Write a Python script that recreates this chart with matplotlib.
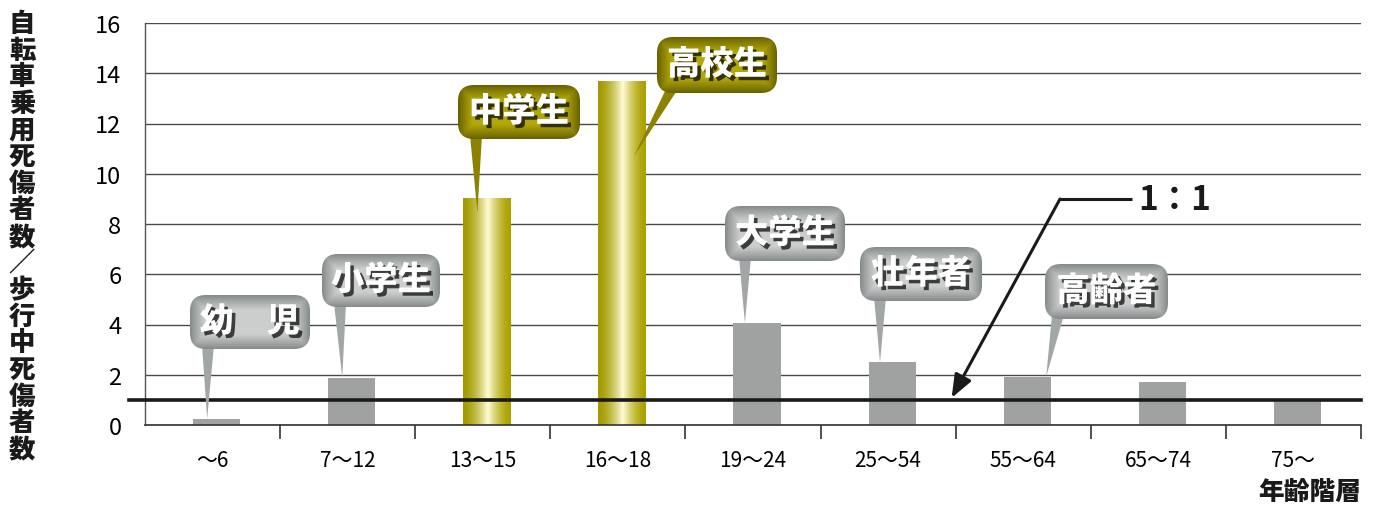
import numpy as np
import matplotlib
matplotlib.use('agg')
import matplotlib.pyplot as plt
from matplotlib.patches import FancyBboxPatch, Polygon
import matplotlib.patheffects as pe
import matplotlib.transforms as mtransforms

plt.rcParams['font.family'] = ['Noto Sans CJK JP', 'DejaVu Sans']

# age groups and ratio of cyclist casualties to pedestrian casualties
age_groups = ['～6', '7～12', '13～15', '16～18', '19～24', '25～54', '55～64', '65～74', '75～']
ratios = [0.25, 1.88, 9.05, 13.7, 4.06, 2.49, 1.92, 1.72, 1.05]
highlight = [False, False, True, True, False, False, False, False, False]

callout_labels = ['幼　児', '小学生', '中学生', '高校生', '大学生', '壮年者', '高齢者']
callout_bars = [0, 1, 2, 3, 4, 5, 6]

y_label = '自転車乗用死傷者数／歩行中死傷者数'
x_label = '年齢階層'
ref_value = 1.0
ref_label = '1：1'

# callout box placement in figure pixels (left, top, width, height)
callout_boxes = [(190, 296, 120, 54), (322, 255, 118, 53), (458, 86, 122, 54),
                 (657, 38, 120, 56), (725, 207, 120, 55), (860, 248, 122, 54),
                 (1045, 265, 123, 55)]
pointer_base = [18, 18, 18, 15, 20, 20, 13]
tip_dx = [-0.07, -0.07, -0.07, 0.09, -0.09, -0.09, 0.14]
tip_depth = [0, 0, 0.6, 3.0, 0, 0, 0]

W, H = 1375, 506
fig = plt.figure(figsize=(W / 100, H / 100), dpi=100)
ax = fig.add_axes([145 / W, 1 - 426 / H, 1216 / W, 402 / H])

x = np.arange(len(age_groups))
ax.set_xlim(-0.5, len(age_groups) - 0.5)
ax.set_ylim(0, 16)
ax.set_yticks(np.arange(0, 17, 2))
ax.set_axisbelow(True)
ax.grid(axis='y', color='#4a4a4a', lw=1.0)

bar_gray = '#a0a2a2'
bars = ax.bar(x + 0.03, ratios, width=0.35,
              color=[('none' if h else bar_gray) for h in highlight], zorder=2)

# gold gradient for the secondary school bars
grad = np.linspace(0, 1, 256)
edge_l = np.array([0.64, 0.60, 0.0])
edge_r = np.array([0.67, 0.63, 0.0])
mid = np.array([1.0, 0.99, 0.84])
peak = 0.52
prof = np.where(grad < peak, grad / peak, (1 - grad) / (1 - peak)) ** 1.6
left_side = grad < peak
gold = np.empty((1, 256, 3))
for c in range(3):
    base = np.where(left_side, edge_l[c], edge_r[c])
    gold[0, :, c] = base + (mid[c] - base) * prof
for rect, h in zip(bars, highlight):
    if h:
        x0, w_, hgt = rect.get_x(), rect.get_width(), rect.get_height()
        im = ax.imshow(gold, extent=(x0, x0 + w_, 0, hgt), aspect='auto', zorder=2)
        im.set_clip_path(rect)

# 1:1 reference line, running slightly past the y axis
blend = mtransforms.blended_transform_factory(ax.transAxes, ax.transData)
ax.plot([-0.013, 1.0], [ref_value, ref_value], color='#1a1a1a', lw=2.6,
        transform=blend, clip_on=False, zorder=4)

ax.set_xticks(x)
ax.set_xticklabels(age_groups, fontsize=15)
ax.set_xticks(np.arange(0.5, len(age_groups), 1.0), minor=True)
ax.tick_params(axis='x', which='major', length=0, pad=17)
ax.tick_params(axis='x', which='minor', length=10, width=1.2, color='#333333', direction='out')
ax.tick_params(axis='y', length=0, pad=17, labelsize=17)
for sp in ['top', 'right']:
    ax.spines[sp].set_visible(False)
ax.spines['left'].set_color('#555555')
ax.spines['bottom'].set_color('#333333')
ax.spines['left'].set_linewidth(1.0)
ax.spines['bottom'].set_linewidth(1.2)

# axis titles
step = 26.6
for k, ch in enumerate(y_label):
    fig.text(22 / W, 1 - (24 + k * step) / H, ch, ha='center', va='center',
             fontsize=19, fontweight='heavy', color='#1a1a1a')
fig.text(1361 / W, 1 - 493 / H, x_label, ha='right', va='center',
         fontsize=18.5, fontweight='heavy', color='#1a1a1a')

# overlay in pixel coordinates for the callouts
ov = fig.add_axes([0, 0, 1, 1], zorder=5)
ov.set_xlim(0, W)
ov.set_ylim(H, 0)
ov.axis('off')


def to_px(xd, yd):
    return ov.transData.inverted().transform(ax.transData.transform((xd, yd)))


# 1:1 label with leader and arrow
tx, ty = 1138, 200
ov.text(tx, ty, ref_label, ha='left', va='center', fontsize=24, color='#1a1a1a',
        fontweight='bold')
elbow = (1060, 200)
target = to_px(5.47, ref_value)
ov.plot([tx - 6, elbow[0]], [ty, ty], color='#1a1a1a', lw=2.2, solid_capstyle='butt')
ov.annotate('', xy=(target[0], target[1] - 2), xytext=elbow,
            arrowprops=dict(arrowstyle='-|>,head_length=1.4,head_width=0.55',
                            color='#1a1a1a', lw=2.2, shrinkA=0, shrinkB=0))


def box_gradient(w, h, edge, center, soft=15.0):
    yy, xx = np.mgrid[0:h, 0:w] + 0.5
    d = np.minimum(np.minimum(xx, w - xx), np.minimum(yy, h - yy))
    t = np.clip(d / soft, 0, 1) ** 0.9
    img = edge[None, None, :] + (center - edge)[None, None, :] * t[..., None]
    return img


gray_edge, gray_center = np.array([0.52, 0.53, 0.53]), np.array([0.80, 0.81, 0.81])
olive_edge, olive_center = np.array([0.40, 0.37, 0.0]), np.array([0.70, 0.66, 0.04])

for lab, bi, (bl, bt, bw, bh), pb, dx, dd in zip(callout_labels, callout_bars, callout_boxes,
                                                  pointer_base, tip_dx, tip_depth):
    is_gold = highlight[bi]
    edge, center = (olive_edge, olive_center) if is_gold else (gray_edge, gray_center)
    ptr_col = (0.55, 0.51, 0.0) if is_gold else (0.64, 0.65, 0.65)
    tip = to_px(bars[bi].get_x() + bars[bi].get_width() / 2 + dx, ratios[bi] - dd)
    bx = bl + pb
    ov.add_patch(Polygon([(bx - 6, bt + bh - 4), (bx + 6, bt + bh - 4), tuple(tip)],
                         closed=True, fc=ptr_col, ec='none', zorder=1))
    patch = FancyBboxPatch((bl, bt), bw, bh, boxstyle='round,pad=0,rounding_size=16',
                           fc='none', ec='none', zorder=2)
    ov.add_patch(patch)
    im = ov.imshow(box_gradient(bw, bh, edge, center), extent=(bl, bl + bw, bt + bh, bt),
                   aspect='auto', zorder=2, interpolation='bilinear')
    im.set_clip_path(patch)
    ov.text(bl + bw / 2, bt + bh / 2 - 1, lab, ha='center', va='center', fontsize=24,
            fontweight='heavy', color='white', zorder=3,
            path_effects=[pe.withSimplePatchShadow(offset=(2.5, -2.5),
                                                   shadow_rgbFace='black', alpha=0.7)])

fig.savefig('out.png', dpi=100, facecolor='white')
